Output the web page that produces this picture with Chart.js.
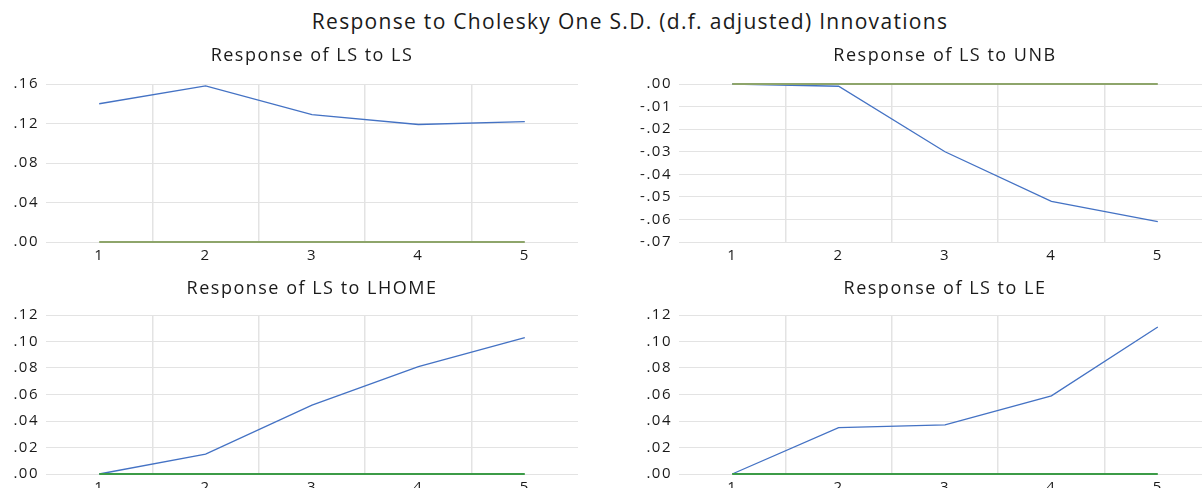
<!DOCTYPE html>
<html>
<head>
<meta charset="utf-8">
<script src="https://cdn.jsdelivr.net/npm/chart.js@4.4.1/dist/chart.umd.min.js"></script>
<style>
  html, body { margin: 0; padding: 0; background: #fff; width: 1202px; height: 488px; overflow: hidden; }
  #stage { position: relative; width: 1240px; height: 520px; }
  #main-title {
    position: absolute; left: 0; top: 7px; width: 1260px; text-align: center;
    font: 21px "Open Sans", sans-serif; letter-spacing: 1.3px; color: #1a1a1a; white-space: nowrap;
  }
  .panel { position: absolute; }
</style>
</head>
<body>
<div id="stage">
  <div id="main-title">Response to Cholesky One S.D. (d.f. adjusted) Innovations</div>
  <div class="panel" style="left:0;top:40px;width:578px;height:228px"><canvas id="c1"></canvas></div>
  <div class="panel" style="left:620px;top:40px;width:591px;height:228px"><canvas id="c2"></canvas></div>
  <div class="panel" style="left:0;top:271px;width:578px;height:229px"><canvas id="c3"></canvas></div>
  <div class="panel" style="left:620px;top:271px;width:591px;height:229px"><canvas id="c4"></canvas></div>
</div>
<script>
  // periods after the shock
  const periods = ['1', '2', '3', '4', '5'];

  // responses of LS
  const lsToLs = [0.140, 0.158, 0.129, 0.119, 0.122];
  const lsToUnb = [0.000, -0.001, -0.030, -0.052, -0.061];
  const lsToLhome = [0.000, 0.015, 0.052, 0.081, 0.103];
  const lsToLe = [0.000, 0.035, 0.037, 0.059, 0.111];
  const zeroLine = [0, 0, 0, 0, 0];

  // y tick values per panel
  const ticksLs = [0, 0.04, 0.08, 0.12, 0.16];
  const ticksUnb = [-0.07, -0.06, -0.05, -0.04, -0.03, -0.02, -0.01, 0];
  const ticksLhome = [0, 0.02, 0.04, 0.06, 0.08, 0.10, 0.12];
  const ticksLe = [0, 0.02, 0.04, 0.06, 0.08, 0.10, 0.12];

  const FONT = '"Open Sans", sans-serif';
  const BLUE = '#4472c4';
  const GRID = '#e3e3e3';

  // the original text is set wide, so space the letters out a bit
  const wideText = {
    id: 'wideText',
    beforeUpdate(chart) { chart.ctx.letterSpacing = '1.5px'; },
    beforeDraw(chart) { chart.ctx.letterSpacing = '1.5px'; },
  };

  function fmt(v) {
    const s = Math.abs(v).toFixed(2).slice(1);
    return (v < -1e-9 ? '-' : '') + s;
  }

  function panel(id, title, values, yTicks, zeroColor, yWidth, titleTop) {
    new Chart(document.getElementById(id), {
      type: 'line',
      data: {
        labels: periods,
        datasets: [
          {
            data: zeroLine,
            borderColor: zeroColor,
            borderWidth: 2,
            pointRadius: 0,
            tension: 0,
            clip: false,
          },
          {
            data: values,
            borderColor: BLUE,
            borderWidth: 1.3,
            pointRadius: 0,
            tension: 0,
            clip: false,
          },
        ],
      },
      plugins: [wideText],
      options: {
        responsive: true,
        maintainAspectRatio: false,
        animation: false,
        layout: { padding: 0 },
        plugins: {
          legend: { display: false },
          tooltip: { enabled: false },
          title: {
            display: true,
            text: title,
            fullSize: false,
            color: '#1a1a1a',
            font: { family: FONT, size: 18, weight: 'normal' },
            padding: { top: titleTop, bottom: 44 - 21.6 - titleTop },
          },
        },
        scales: {
          x: {
            offset: true,
            border: { display: false },
            grid: {
              offset: true,
              drawTicks: false,
              lineWidth: 1.5,
              color: (ctx) => (ctx.type === 'tick' && ctx.index > 0 ? GRID : 'transparent'),
            },
            ticks: { color: '#1a1a1a', padding: 5, font: { family: FONT, size: 15 } },
            afterFit: (s) => { s.height = 26; },
          },
          y: {
            min: yTicks[0],
            max: yTicks[yTicks.length - 1],
            border: { display: false },
            grid: { drawTicks: false, color: GRID, lineWidth: 1 },
            ticks: {
              color: '#1a1a1a',
              padding: 7,
              font: { family: FONT, size: 15 },
              callback: (v) => fmt(v),
            },
            afterBuildTicks: (s) => { s.ticks = yTicks.map((v) => ({ value: v })); },
            afterFit: (s) => { s.width = yWidth; },
          },
        },
      },
    });
  }

  panel('c1', 'Response of LS to LS', lsToLs, ticksLs, '#8ea56b', 46, 5.2);
  panel('c2', 'Response of LS to UNB', lsToUnb, ticksUnb, '#8ea56b', 59, 5.2);
  panel('c3', 'Response of LS to LHOME', lsToLhome, ticksLhome, '#3c9b47', 46, 7.2);
  panel('c4', 'Response of LS to LE', lsToLe, ticksLe, '#3c9b47', 59, 7.2);
</script>
</body>
</html>
